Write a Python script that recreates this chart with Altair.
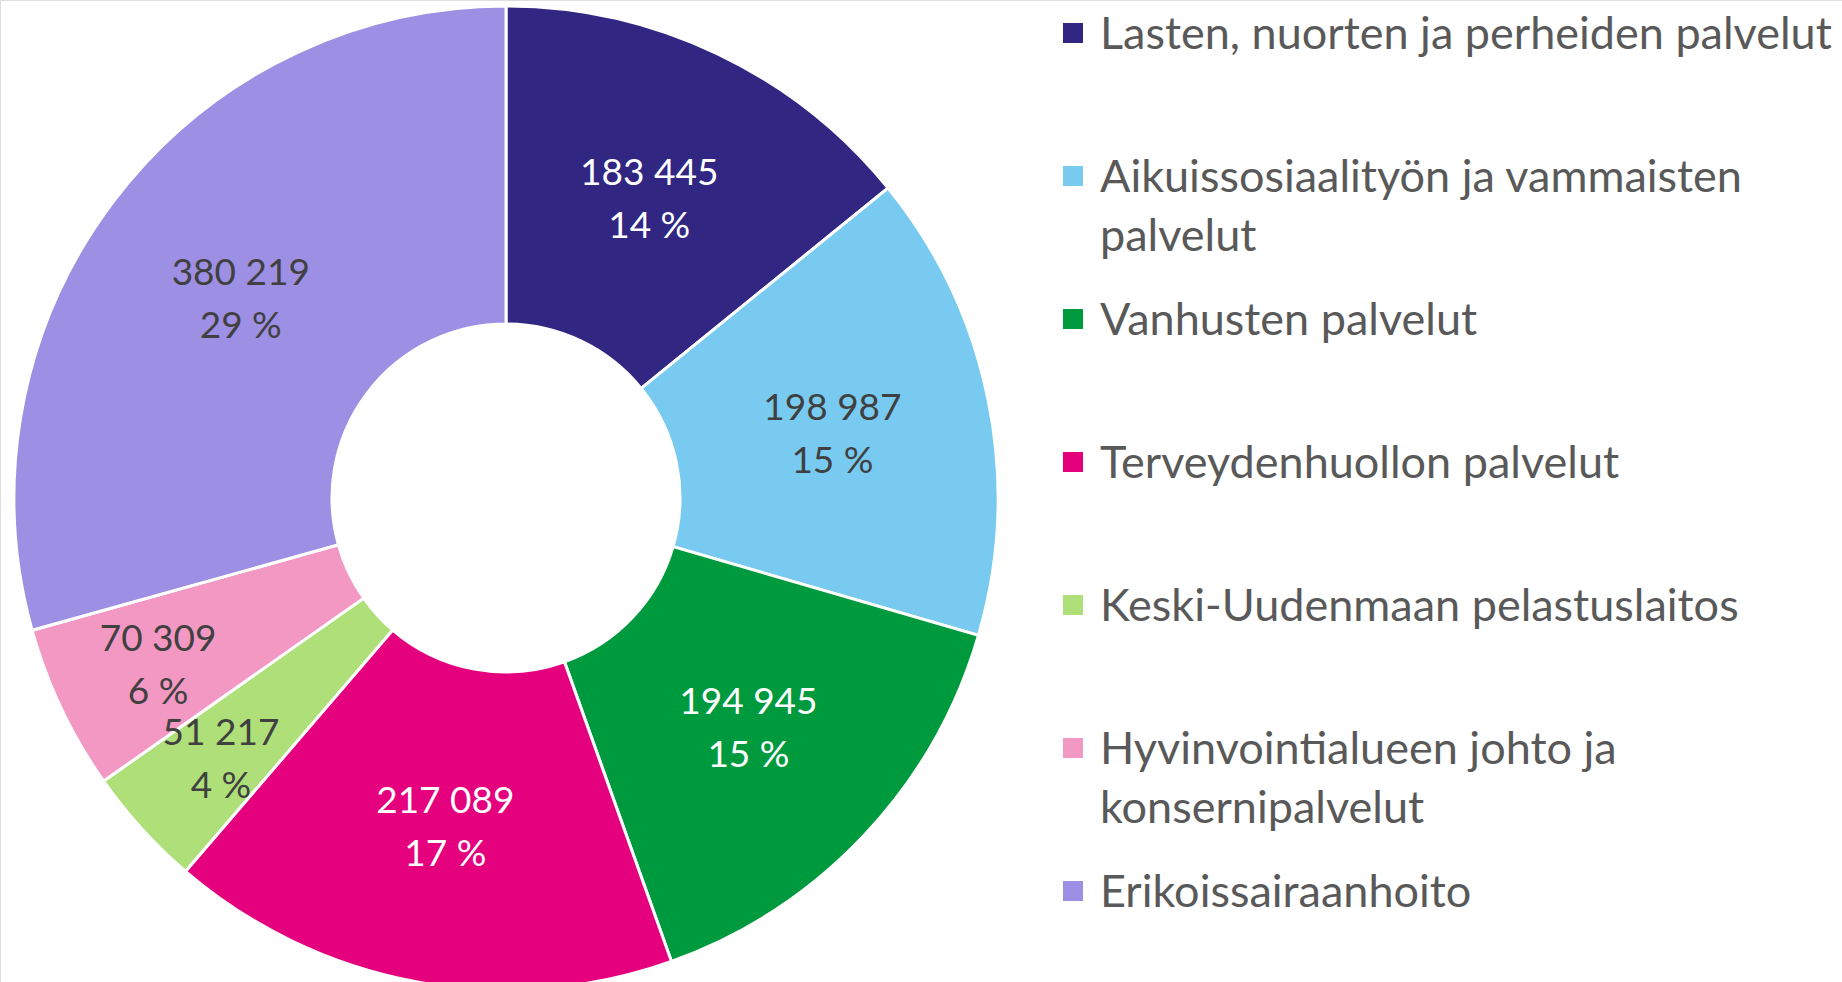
import altair as alt
import pandas as pd

categories = [
    "Lasten, nuorten ja perheiden palvelut",
    "Aikuissosiaalityön ja vammaisten palvelut",
    "Vanhusten palvelut",
    "Terveydenhuollon palvelut",
    "Keski-Uudenmaan pelastuslaitos",
    "Hyvinvointialueen johto ja konsernipalvelut",
    "Erikoissairaanhoito",
]
legend_labels = [
    "Lasten, nuorten ja perheiden palvelut",
    "Aikuissosiaalityön ja vammaisten\npalvelut",
    "Vanhusten palvelut",
    "Terveydenhuollon palvelut",
    "Keski-Uudenmaan pelastuslaitos",
    "Hyvinvointialueen johto ja\nkonsernipalvelut",
    "Erikoissairaanhoito",
]
values = [183445, 198987, 194945, 217089, 51217, 70309, 380219]
value_labels = ["183 445", "198 987", "194 945", "217 089", "51 217", "70 309", "380 219"]
pct_labels = ["14 %", "15 %", "15 %", "17 %", "4 %", "6 %", "29 %"]
colors = ["#312783", "#78CAF1", "#009A3E", "#E5007D", "#AEDF78", "#F298C2", "#9D8FE3"]

df = pd.DataFrame({
    "cat": categories,
    "legend": legend_labels,
    "value": values,
    "lbl": [v + "\n" + p for v, p in zip(value_labels, pct_labels)],
    "idx": list(range(len(categories))),
})

CX, CY = 506, 498
FONT = "Lato"

base = alt.Chart(df)

arcs = base.mark_arc(outerRadius=492, innerRadius=174, stroke="white", strokeWidth=3).encode(
    theta=alt.Theta("value:Q", stack=True),
    color=alt.Color("cat:N", scale=alt.Scale(domain=categories, range=colors), legend=None),
    order=alt.Order("idx:Q"),
    x=alt.value(CX),
    y=alt.value(CY),
)

dark_cats = [categories[0], categories[2], categories[3]]

labels = base.transform_joinaggregate(
    total="sum(value)"
).transform_window(
    cum="sum(value)", sort=[alt.SortField("idx")], frame=[None, 0]
).transform_calculate(
    mid="(datum.cum - datum.value / 2) / datum.total * 2 * PI",
    lr="datum.value / datum.total >= 0.1 ? 333 : 385",
).mark_text(font=FONT, fontSize=37, lineBreak="\n", lineHeight=53, align="center",
            baseline="middle", dy=-23).encode(
    theta=alt.Theta("mid:Q", scale=None),
    radius=alt.Radius("lr:Q", scale=None),
    text="lbl:N",
    color=alt.condition(alt.FieldOneOfPredicate(field="cat", oneOf=dark_cats), alt.value("white"), alt.value("#404040")),
    x=alt.value(CX),
    y=alt.value(CY),
)

yscale = alt.Scale(type="point", domain=categories, range=[33, 891], padding=0)

leg_sq = base.mark_square(size=400, opacity=1).encode(
    x=alt.value(1073),
    y=alt.Y("cat:N", scale=yscale, axis=None),
    color=alt.Color("cat:N", scale=alt.Scale(domain=categories, range=colors), legend=None),
)

leg_txt = base.mark_text(font=FONT, fontSize=45, lineBreak="\n", lineHeight=59, align="left",
                         baseline="alphabetic", dy=16, color="#595959").encode(
    x=alt.value(1100),
    y=alt.Y("cat:N", scale=yscale, axis=None),
    text="legend:N",
)

chart = alt.layer(arcs, labels, leg_sq, leg_txt).resolve_scale(
    theta="independent", radius="independent"
).properties(
    width=1842, height=982, padding=0, autosize=alt.AutoSizeParams(type="none"),
).configure_view(stroke=None).configure(background="white")

chart.save("out.html", embed_options={"renderer": "svg", "actions": False})
